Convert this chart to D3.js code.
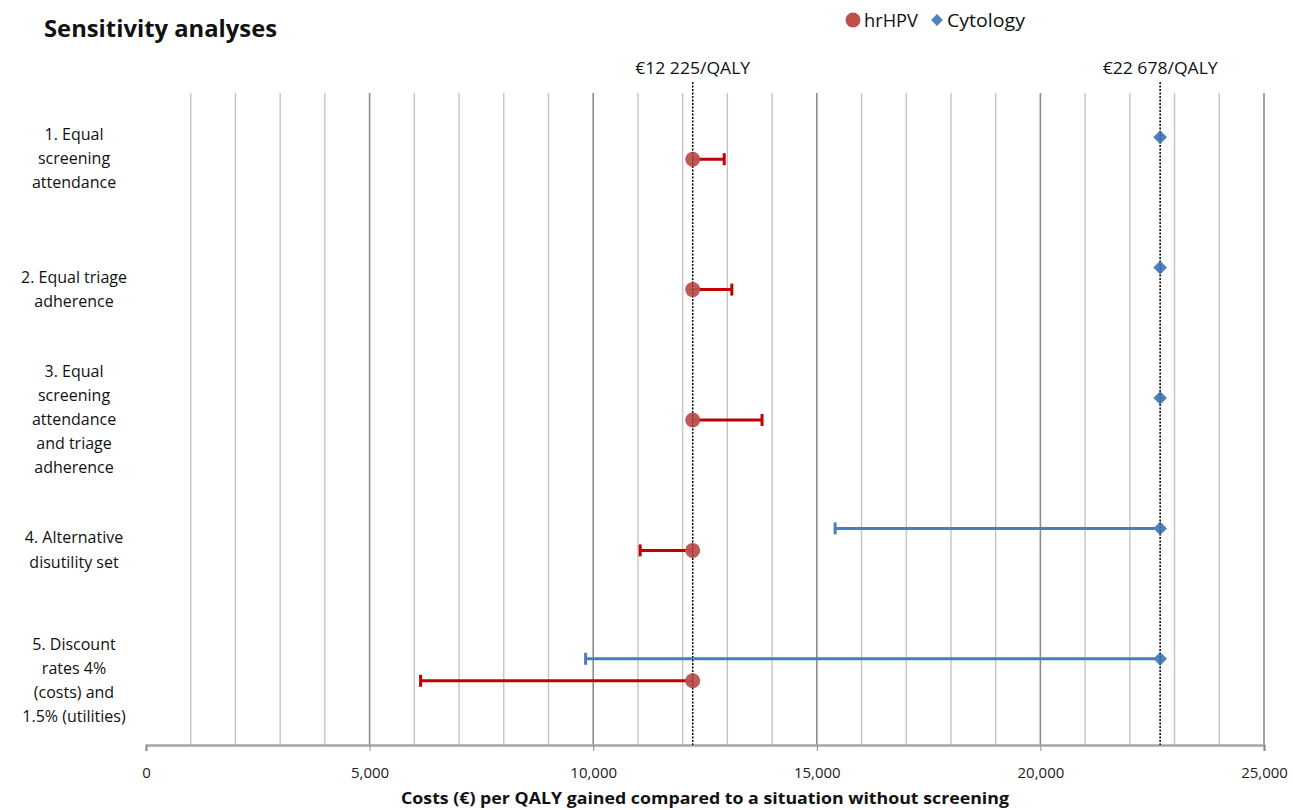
<!DOCTYPE html>
<html><head><meta charset="utf-8">
<script src="https://cdnjs.cloudflare.com/ajax/libs/d3/7.8.5/d3.min.js"></script>
<style>body{margin:0;background:#fff}svg{display:block}</style>
</head><body>
<svg id="c" width="1293" height="810"></svg>
<script>
const categories = [
  ["1. Equal", "screening", "attendance"],
  ["2. Equal triage", "adherence"],
  ["3. Equal", "screening", "attendance", "and triage", "adherence"],
  ["4. Alternative", "disutility set"],
  ["5. Discount", "rates 4%", "(costs) and", "1.5% (utilities)"]
];
const hrhpvValue = [12225, 12225, 12225, 12225, 12225];
const hrhpvLow   = [12225, 12225, 12225, 11050, 6140];
const hrhpvHigh  = [12930, 13100, 13775, 12225, 12225];
const cytoValue  = [22678, 22678, 22678, 22678, 22678];
const cytoLow    = [22678, 22678, 22678, 15410, 9830];
const cytoHigh   = [22678, 22678, 22678, 22678, 22678];
const refLines = [12225, 22678];
const refLabels = ["€12 225/QALY", "€22 678/QALY"];
const xTicks = [0, 5000, 10000, 15000, 20000, 25000];

const font = "'Open Sans', 'Noto Sans', sans-serif";
const svg = d3.select("#c");
const L = 146, R = 1264, T = 93, B = 745;
const x = d3.scaleLinear().domain([0, 25000]).range([L, R]);
const y = d3.scaleBand().domain(d3.range(categories.length)).range([T, B]);

// gridlines
const grid = d3.range(1000, 25001, 1000);
svg.append("g").selectAll("line").data(grid).join("line")
  .attr("x1", d => x(d)).attr("x2", d => x(d)).attr("y1", T).attr("y2", B)
  .attr("stroke", d => d % 5000 === 0 ? "#8c8c8c" : "#c4c4c4")
  .attr("stroke-width", d => d % 5000 === 0 ? 1.6 : 1.4);

// axis
const ax = svg.append("g").attr("transform", `translate(0,${B})`)
  .call(d3.axisBottom(x).tickValues(xTicks).tickSize(6).tickPadding(16)
    .tickFormat(d3.format(",")));
ax.select(".domain").attr("stroke", "#a6a6a6").attr("stroke-width", 2.5);
ax.selectAll(".tick line").attr("stroke", "#8c8c8c");
ax.selectAll("text").attr("font-family", font).attr("font-size", 15).attr("fill", "#222");

// reference lines
svg.append("g").selectAll("line").data(refLines).join("line")
  .attr("x1", d => x(d)).attr("x2", d => x(d)).attr("y1", 82).attr("y2", B)
  .attr("stroke", "#111").attr("stroke-width", 1.5).attr("stroke-dasharray", "2,1.5");
svg.append("g").selectAll("text").data(refLines).join("text")
  .attr("x", d => x(d)).attr("y", 74).attr("text-anchor", "middle")
  .attr("font-family", font).attr("font-size", 16).attr("fill", "#111")
  .attr("textLength", 115).attr("lengthAdjust", "spacingAndGlyphs")
  .text((d, i) => refLabels[i]);

// category labels
const cl = svg.append("g").selectAll("text").data(categories).join("text")
  .attr("text-anchor", "middle").attr("font-family", font).attr("font-size", 16).attr("fill", "#111");
cl.each(function(lines, i) {
  const cy = y(i) + y.bandwidth() / 2 + 1;
  const lh = 24.2;
  d3.select(this).selectAll("tspan").data(lines).join("tspan")
    .attr("x", 74)
    .attr("y", (d, j) => cy + (j - (lines.length - 1) / 2) * lh + 5)
    .text(d => d);
});

const cytoY = i => y(i) + y.bandwidth() / 2 - 21;
const hpvY = i => y(i) + y.bandwidth() / 2 + 1;

// cytology error bars
const cytoColor = "#4a7ebb";
const cg = svg.append("g");
categories.forEach((c, i) => {
  if (cytoLow[i] < cytoValue[i]) {
    cg.append("line").attr("x1", x(cytoLow[i])).attr("x2", x(cytoValue[i]))
      .attr("y1", cytoY(i)).attr("y2", cytoY(i)).attr("stroke", cytoColor).attr("stroke-width", 3);
    cg.append("line").attr("x1", x(cytoLow[i])).attr("x2", x(cytoLow[i]))
      .attr("y1", cytoY(i) - 6).attr("y2", cytoY(i) + 6).attr("stroke", cytoColor).attr("stroke-width", 3);
  }
  if (cytoHigh[i] > cytoValue[i]) {
    cg.append("line").attr("x1", x(cytoValue[i])).attr("x2", x(cytoHigh[i]))
      .attr("y1", cytoY(i)).attr("y2", cytoY(i)).attr("stroke", cytoColor).attr("stroke-width", 3);
  }
});
// hrHPV error bars
const hpvBar = "#c00000";
const hg = svg.append("g");
categories.forEach((c, i) => {
  [[hrhpvLow[i], hrhpvValue[i]], [hrhpvValue[i], hrhpvHigh[i]]].forEach(([a, b], k) => {
    if (b > a) {
      hg.append("line").attr("x1", x(a)).attr("x2", x(b))
        .attr("y1", hpvY(i)).attr("y2", hpvY(i)).attr("stroke", hpvBar).attr("stroke-width", 3);
      const capX = k === 0 ? x(a) : x(b);
      hg.append("line").attr("x1", capX).attr("x2", capX)
        .attr("y1", hpvY(i) - 6).attr("y2", hpvY(i) + 6).attr("stroke", hpvBar).attr("stroke-width", 3);
    }
  });
});

// markers
svg.append("g").selectAll("path").data(cytoValue).join("path")
  .attr("d", d3.symbol(d3.symbolDiamond2, 120))
  .attr("transform", (d, i) => `translate(${x(d)},${cytoY(i)})`)
  .attr("fill", "#4f81bd");
svg.append("g").selectAll("circle").data(hrhpvValue).join("circle")
  .attr("cx", d => x(d)).attr("cy", (d, i) => hpvY(i)).attr("r", 7.5)
  .attr("fill", "#c0504d").attr("opacity", 0.95);

// dotted reference lines visible through markers
svg.append("g").selectAll("line").data(refLines).join("line")
  .attr("x1", d => x(d)).attr("x2", d => x(d)).attr("y1", 82).attr("y2", B)
  .attr("stroke", "#111").attr("stroke-width", 1).attr("stroke-opacity", 0.5).attr("stroke-dasharray", "2,1.5");

// title
svg.append("text").attr("x", 44).attr("y", 37).attr("font-family", font)
  .attr("font-weight", "bold").attr("font-size", 23).attr("fill", "#111")
  .attr("textLength", 233).attr("lengthAdjust", "spacingAndGlyphs")
  .text("Sensitivity analyses");

// legend
const lg = svg.append("g");
lg.append("circle").attr("cx", 853).attr("cy", 20).attr("r", 7.5).attr("fill", "#c0504d");
lg.append("text").attr("x", 864).attr("y", 27).attr("font-family", font).attr("font-size", 18).attr("fill", "#111")
  .attr("textLength", 54).attr("lengthAdjust", "spacingAndGlyphs").text("hrHPV");
lg.append("path").attr("d", d3.symbol(d3.symbolDiamond2, 90)).attr("transform", "translate(937,20)").attr("fill", "#4f81bd");
lg.append("text").attr("x", 947).attr("y", 27).attr("font-family", font).attr("font-size", 18).attr("fill", "#111")
  .attr("textLength", 78).attr("lengthAdjust", "spacingAndGlyphs").text("Cytology");

// x axis title
svg.append("text").attr("x", x(12500)).attr("y", 804).attr("text-anchor", "middle")
  .attr("font-family", font).attr("font-weight", "bold").attr("font-size", 16.5).attr("fill", "#111")
  .attr("textLength", 608).attr("lengthAdjust", "spacingAndGlyphs")
  .text("Costs (€) per QALY gained compared to a situation without screening");
</script>
</body></html>
